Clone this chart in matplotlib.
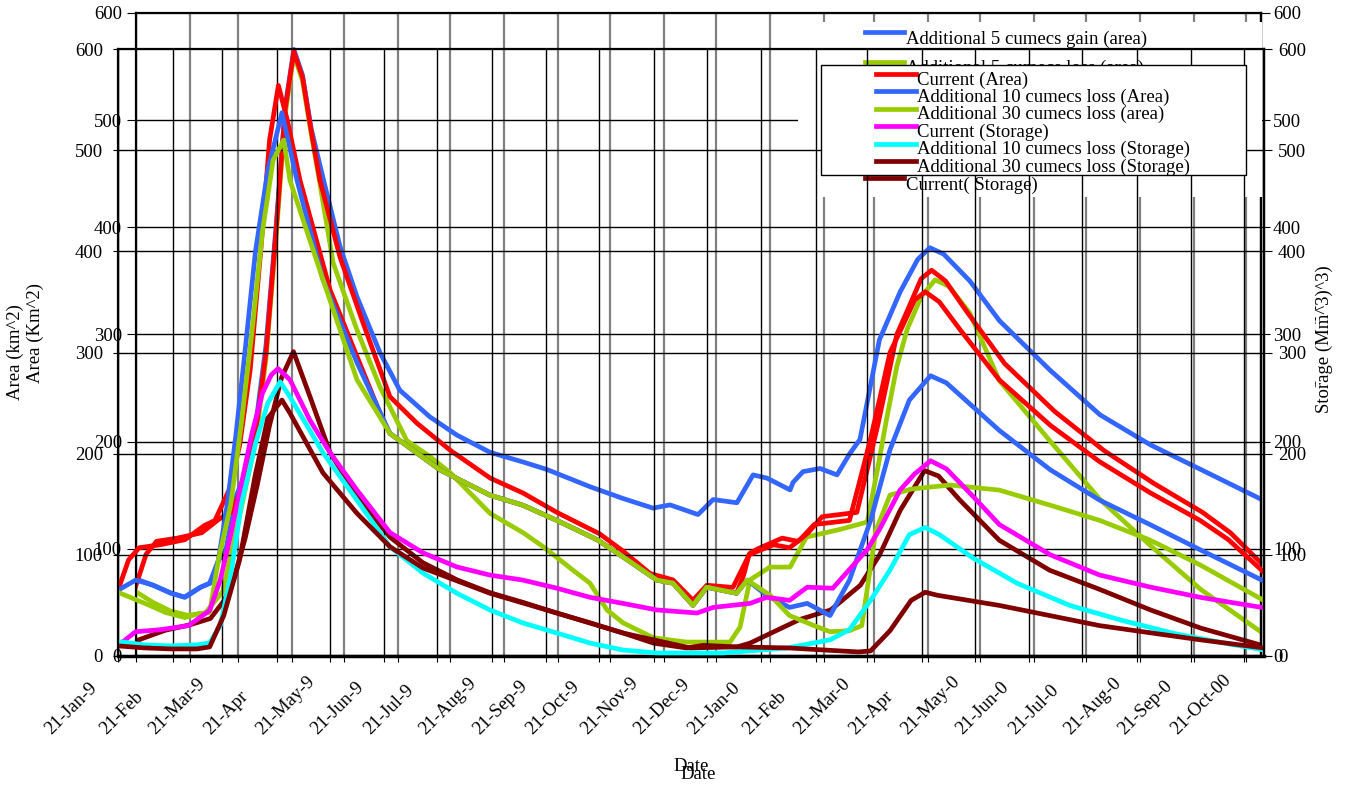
import matplotlib
matplotlib.use("Agg")
import matplotlib.pyplot as plt
from matplotlib.lines import Line2D
from matplotlib.transforms import ScaledTranslation

plt.rcParams['font.family'] = ['Liberation Serif', 'DejaVu Serif']
plt.rcParams['font.size'] = 13.5

# ---- data (days since 21-Jan-99) ----
# chart A (back): current area / current storage / 5 cumecs gain & loss
a_area_d = [0, 6, 12, 24, 38, 49, 55, 63, 69, 75, 81, 86, 91, 96, 101, 106, 117.6, 130.8, 146.3, 162, 181, 204, 223,
            242.4, 267, 280.4, 296, 309.2, 320.7, 328.7, 343.7, 353.5, 358, 365, 372, 381, 387, 395, 405, 415, 421,
            427, 432, 438, 444, 452, 458, 466, 478, 500, 529, 557, 586, 614, 630, 650]
a_area_v = [65, 95, 107, 110, 115, 129, 134, 164, 208, 283, 401, 510, 564, 540, 490, 444, 372, 311, 242, 217, 192, 166,
            152, 134, 114, 98, 77, 71, 52, 66, 64, 96, 100, 105, 110, 107, 115, 130, 132, 134, 174, 215, 253, 300, 322,
            352, 360, 350, 322, 273, 228, 192, 161, 134, 115, 83]
a_stor_d = [0, 5, 17, 31, 43, 51, 57, 63, 70, 77, 84, 90.8, 100.3, 111.8, 127.4, 146.3, 165.3, 185, 204, 223, 242.4,
            261.4, 280.4, 298, 317, 326.8, 346, 353.5, 382, 400, 417, 428, 440, 454, 462, 474, 497, 526, 555, 584, 613,
            648]
a_stor_v = [14, 17, 24, 29, 35, 52, 75, 110, 160, 215, 260, 284, 242, 190, 149, 111, 87, 71, 59, 50, 40, 31, 21.5, 12,
            7.5, 10, 8.4, 12, 34, 43, 66, 94, 136, 173, 168, 146, 108, 80, 62, 43, 26, 10]
gain5_d = [0, 10, 20, 28, 37, 43, 48, 52, 58, 63, 69, 75, 81, 86, 91, 96, 101, 107.8, 117.6, 127.4, 140.6, 152, 169.4,
           185, 204, 223, 236.7, 261.4, 280.4, 297.7, 307.5, 323.6, 332.3, 346, 355.3, 363.3, 376.6, 378.3, 384, 393.8,
           403.6, 411, 416.8, 428, 440, 450, 457, 465, 480, 497, 526, 555, 584, 613, 648]
gain5_v = [72, 66, 59, 55, 64, 68, 90, 100, 150, 170, 215, 290, 405, 512, 566, 542, 492, 446, 382, 335, 283, 248, 223,
           206, 190, 181, 174, 158, 147, 138, 141, 132, 146, 143, 169, 166, 155, 162, 172, 175, 169, 189, 202, 295, 340,
           370, 381, 375, 350, 313, 267, 225, 197, 174, 146]
loss5_d = [0, 10, 20, 30, 40, 50, 57, 63, 69, 75, 81, 86, 91, 96, 101, 106, 113.6, 127.4, 140.6, 156, 169.4, 181, 204,
           223, 234.5, 251.7, 261.4, 271.2, 280.4, 298, 317, 342, 347.8, 353.5, 365, 376.6, 386, 405, 421, 427, 432,
           438, 444, 452, 460, 468, 480, 497, 526, 555, 584, 613, 648]
loss5_v = [60, 50, 42, 38, 40, 60, 110, 155, 200, 278, 395, 505, 561, 537, 487, 441, 367, 304, 251, 201, 186, 171, 133,
           115, 102, 80, 68, 43, 31, 17, 13, 13, 27, 71, 83, 83, 111, 118, 125, 175, 220, 270, 305, 335, 351, 345, 320,
           257, 201, 146, 103, 62, 22]

# chart B (front): current area / current storage / 10 & 30 cumecs loss
b_area_d = [0, 6, 12, 24, 38, 49, 55, 63, 69, 75, 81, 86, 91, 96, 103.3, 120.3, 135.6, 150.3, 154.3, 182.7, 211, 229.8,
            249, 271.8, 286.5, 305.8, 314.9, 326.2, 334, 351, 355, 358, 365, 372, 381, 387, 395, 405, 415, 421, 427,
            432, 438, 444, 452, 458, 466, 478, 500, 529, 557, 586, 614, 630, 650]
b_area_v = [65, 95, 107, 110, 115, 129, 134, 164, 208, 283, 401, 510, 564, 530, 470, 362, 296, 233, 220, 184, 159, 149,
            134, 115, 98, 75, 72, 50, 68, 62, 80, 100, 105, 110, 107, 115, 130, 132, 134, 174, 215, 253, 300, 322, 352,
            360, 350, 322, 273, 228, 192, 161, 134, 115, 83]
b_stor_d = [0, 2, 10, 24, 40, 52, 58, 64, 70, 76, 82, 87, 90.8, 97.6, 108.9, 120.3, 135.6, 154.3, 173, 192.3, 211,
            229.8, 249, 267.8, 286.5, 305.8, 328.5, 337.6, 358.6, 368, 381, 391, 405.6, 409.6, 425, 432, 443.7, 452,
            461, 470, 485, 500, 529, 557, 586, 614, 649]
b_stor_v = [10, 13, 24, 26, 30, 45, 75, 120, 170, 220, 260, 278, 284, 273, 233, 201, 164, 122, 102, 88, 80, 75, 67, 58,
            52, 45.5, 42.5, 48, 52, 58, 55, 68, 67, 75, 105, 125, 164, 180, 193, 185, 158, 130, 100, 80, 68, 58, 48]
loss10_d = [0, 10, 20, 30, 38, 47, 52, 57, 62, 67, 72, 78, 85, 93, 101.6, 116.3, 135.6, 154.3, 182.7, 211, 229.8, 249,
            271.8, 286.5, 305.8, 314.9, 326.2, 334, 351, 357, 368, 381, 391, 404, 415, 427, 438, 449, 461, 470, 500,
            529, 557, 586, 614, 649]
loss10_v = [65, 75, 70, 62, 58, 68, 72, 95, 150, 220, 300, 400, 480, 537, 470, 372, 290, 220, 184, 159, 149, 134, 115,
            98, 75, 72, 50, 68, 62, 75, 60, 48, 52, 40, 75, 134, 204, 253, 277, 270, 223, 184, 154, 129.5, 105, 75]
loss30_d = [0, 18, 27, 38, 46, 52, 57, 64, 70, 76, 82, 88, 94, 97.6, 116.3, 135.6, 154.3, 182.7, 211, 229.8, 249,
            271.8, 286.5, 305.8, 314.9, 326.2, 334, 351, 357, 370, 381, 395, 404, 415, 422, 430, 438, 450, 472, 500,
            529, 557, 585, 614, 650]
loss30_v = [63, 50, 43, 38, 42, 43, 95, 150, 230, 320, 420, 490, 510, 470, 372, 273, 220, 184, 159, 149, 134, 115, 98,
            75, 72, 50, 68, 62, 75, 60, 40, 30, 24, 25, 30, 124, 159, 165, 169, 164, 149, 134, 115, 90, 55]
loss10_stor_d = [0, 2, 15, 30, 45, 52, 58, 64, 70, 78, 85, 92, 97.6, 116.3, 135.6, 154.3, 173, 192.3, 211, 229.8, 249,
                 267.8, 286.5, 305.8, 343, 358, 380, 404, 415, 427, 438, 449, 458, 466, 485, 510, 540, 570, 600, 630,
                 650]
loss10_stor_v = [12, 14, 11, 10, 11, 13, 30, 80, 150, 210, 250, 271, 256, 201, 154, 108, 82, 62, 45.5, 32.6, 22.7,
                 12.8, 5.9, 3, 3, 5, 8, 16, 26, 55, 85, 120, 127, 120, 97, 72, 50, 35, 22, 12, 6]
loss30_stor_d = [0, 15, 30, 45, 52, 60, 69, 78, 85, 93, 97.6, 116.3, 135.6, 154.3, 173, 211, 249, 286.5, 324.5, 351,
                 380, 400, 420, 427, 438, 450, 458, 465, 500, 557, 614, 650]
loss30_stor_v = [10, 8, 7, 7, 9, 40, 95, 180, 235, 253, 240, 181, 141, 108, 87, 62, 42.5, 22.7, 8, 9, 8, 6, 4, 5, 25,
                 55, 63, 60, 50, 30, 16, 8]

month_labels = ['21-Jan-9', '21-Feb', '21-Mar-9', '21-Apr', '21-May-9', '21-Jun-9', '21-Jul-9', '21-Aug-9',
                '21-Sep-9', '21-Oct-9', '21-Nov-9', '21-Dec-9', '21-Jan-0', '21-Feb', '21-Mar-0', '21-Apr',
                '21-May-0', '21-Jun-0', '21-Jul-0', '21-Aug-0', '21-Sep-0', '21-Oct-00']
month_days = [0, 31, 59, 90, 120, 151, 181, 212, 243, 273, 304, 334, 365, 396, 425, 456, 486, 517, 547, 578, 609, 639]

RED, BLUE, GREEN = '#ff0000', '#3366ff', '#99cc00'
MAG, CYAN, DRED = '#ff00ff', '#00ffff', '#800000'
FS = 13.5
lw = 3.4

W, H = 1349, 786
fig = plt.figure(figsize=(W / 100, H / 100), dpi=100)


def px_axes(left, top, right, bottom, **kw):
    return fig.add_axes([left / W, 1 - bottom / H, (right - left) / W, (bottom - top) / H], **kw)


# ---------------- chart A (behind) ----------------
axA = px_axes(135.7, 13, 1261, 656)
axA.set_zorder(0)
axA.set_xlim(0, 647.6)
axA.set_ylim(0, 600)
axA.patch.set_alpha(0)
axA.set_xticks(month_days)
axA.set_xticklabels([])
axA.tick_params(axis='x', length=4, color='k')
axA.set_yticks(range(0, 601, 100))
axA.tick_params(axis='y', direction='out', length=6.3, pad=3.6, labelsize=FS)
for x in month_days:
    axA.axvline(x, color='#808080', lw=1.6, zorder=1)
for y in range(100, 600, 100):
    axA.axhline(y, color='k', lw=1, zorder=1)
for s in axA.spines.values():
    s.set_linewidth(1.6)
axA.set_ylabel('Area (Km^2)', fontsize=FS)
axA.yaxis.set_label_coords(-(135.7 - 44) / 1125.3, (656 - 333) / 643)
axA.set_xlabel('Date', fontsize=FS)
axA.xaxis.set_label_coords((698 - 135.7) / 1125.3, -(766 - 656) / 643)

axA.plot(gain5_d, gain5_v, color=BLUE, lw=lw, zorder=3)
axA.plot(loss5_d, loss5_v, color=GREEN, lw=lw, zorder=3)
axA.plot(a_area_d, a_area_v, color=RED, lw=lw, zorder=3)
axA.plot(a_stor_d, a_stor_v, color=DRED, lw=lw, zorder=3)

axA2 = axA.twinx()
axA2.set_zorder(0)
axA2.set_ylim(0, 600)
axA2.set_yticks(range(0, 601, 100))
axA2.tick_params(axis='y', direction='out', length=6.5, pad=2.2, labelsize=FS)
axA2.spines['right'].set_linewidth(1.6)
axA2.set_ylabel('Storage (Mm^3)', fontsize=FS)
axA2.yaxis.set_label_coords(1 + (1316 - 1261) / 1125.3, (656 - 327) / 643)

# legend of chart A: white, no frame, sits between the two charts
legA_items = [('Additional 5 cumecs gain (area)', BLUE), ('Additional 5 cumecs loss (area)', GREEN),
              ('Current (Area)', RED), ('Additional 5 cumecs gain (Storage)', MAG),
              ('Additional 5 cumecs loss (Storage)', CYAN), ('Current( Storage)', DRED)]
legA_ax = fig.add_axes([0, 0, 1, 1], zorder=0.5)
legA_ax.set_xlim(0, W)
legA_ax.set_ylim(H, 0)
legA_ax.axis('off')
legA_ax.add_patch(plt.Rectangle((798, 22), 464, 175, facecolor='white', edgecolor='none'))
for i, (lab, c) in enumerate(legA_items):
    yy = 32.3 + 29.2 * i
    legA_ax.add_line(Line2D([865, 904], [yy, yy], color=c, lw=lw))
    legA_ax.text(906, yy + 7, lab, va='center', ha='left', fontsize=FS)

# ---------------- chart B (front) ----------------
axB = px_axes(118, 49, 1264, 656)
axB.set_zorder(1)
axB.set_xlim(0, 650.2)
axB.set_ylim(0, 600)
axB.patch.set_alpha(0)
axB.set_xticks(month_days)
axB.set_xticklabels(month_labels, rotation=45, ha='left', va='bottom', rotation_mode='anchor', fontsize=FS)
axB.tick_params(axis='x', length=4, pad=0)
off = ScaledTranslation(-64 / 100, -76 / 100, fig.dpi_scale_trans)
for lab in axB.get_xticklabels():
    lab.set_transform(lab.get_transform() + off)
axB.set_yticks(range(0, 601, 100))
axB.tick_params(axis='y', direction='out', length=3.6, pad=7.2, labelsize=FS)
for x in month_days:
    axB.axvline(x, color='k', lw=1, zorder=1)
for y in range(100, 600, 100):
    axB.axhline(y, color='k', lw=1, zorder=1)
for s in axB.spines.values():
    s.set_linewidth(1.6)
axB.spines['bottom'].set_linewidth(2.5)
axB.set_ylabel('Area (km^2)', fontsize=FS)
axB.yaxis.set_label_coords(-(118 - 24) / 1146, (656 - 352) / 607)
axB.set_xlabel('Date', fontsize=FS)
axB.xaxis.set_label_coords((691 - 118) / 1146, -(758 - 656) / 607)

axB.plot(b_area_d, b_area_v, color=RED, lw=lw, zorder=3)
axB.plot(loss10_d, loss10_v, color=BLUE, lw=lw, zorder=3)
axB.plot(loss30_d, loss30_v, color=GREEN, lw=lw, zorder=3)
axB.plot(b_stor_d, b_stor_v, color=MAG, lw=lw, zorder=3)
axB.plot(loss10_stor_d, loss10_stor_v, color=CYAN, lw=lw, zorder=3)
axB.plot(loss30_stor_d, loss30_stor_v, color=DRED, lw=lw, zorder=3)

axB2 = axB.twinx()
axB2.set_zorder(1)
axB2.set_ylim(0, 600)
axB2.set_yticks(range(0, 601, 100))
axB2.tick_params(axis='y', direction='out', length=5.8, pad=4.3, labelsize=FS)
axB2.spines['right'].set_linewidth(1.6)
axB2.set_ylabel('Storage (Mm^3)', fontsize=FS,
                bbox=dict(facecolor='white', edgecolor='none', pad=0))
axB2.yaxis.set_label_coords(1 + (1316 - 1264) / 1146, (656 - 351) / 607)

# legend of chart B (framed, white)
legB_items = [('Current (Area)', RED), ('Additional 10 cumecs loss (Area)', BLUE),
              ('Additional 30 cumecs loss (area)', GREEN), ('Current (Storage)', MAG),
              ('Additional 10 cumecs loss (Storage)', CYAN), ('Additional 30 cumecs loss (Storage)', DRED)]
legB_ax = fig.add_axes([0, 0, 1, 1], zorder=2)
legB_ax.set_xlim(0, W)
legB_ax.set_ylim(H, 0)
legB_ax.axis('off')
legB_ax.add_patch(plt.Rectangle((820.5, 64.5), 425, 110, facecolor='white', edgecolor='k', lw=1))
for i, (lab, c) in enumerate(legB_items):
    yy = 74 + 17.4 * i
    legB_ax.add_line(Line2D([876, 916], [yy, yy], color=c, lw=lw))
    legB_ax.text(917, yy + 6, lab, va='center', ha='left', fontsize=FS)

fig.savefig('out.png', dpi=100)
